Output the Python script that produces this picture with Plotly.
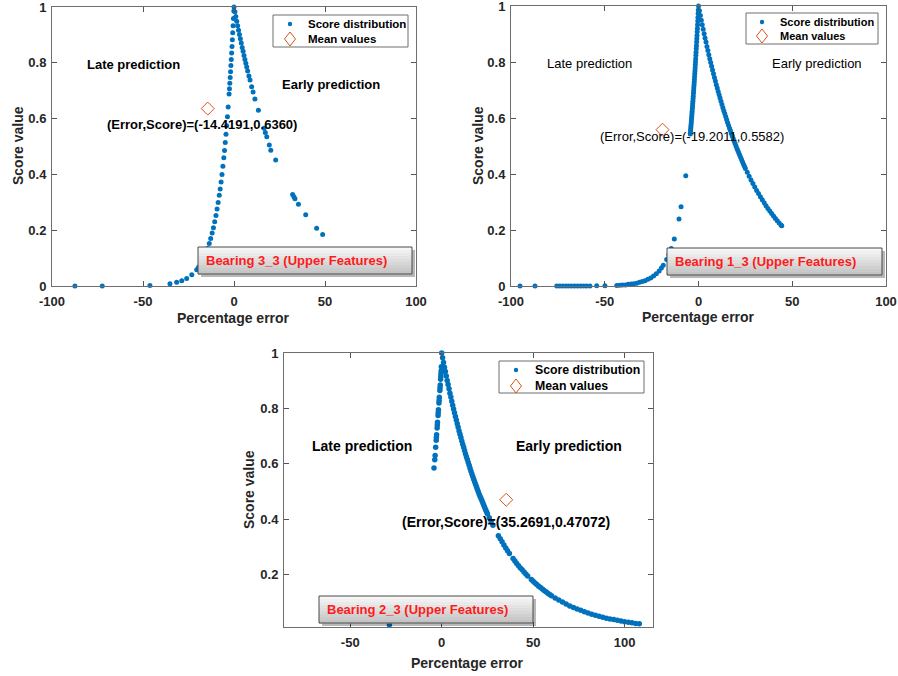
import plotly.graph_objects as go

# ---------------------------------------------------------------- data
# Bearing 3_3 : percentage error / score pairs
b33_err = [-87.4, -72.4, -46.2, -35.2, -31.5, -28.7, -26.0, -23.2,
           -20.5, -19.5, -18.5, -17.5, -16.5, -15.5, -14.5, -13.6, -12.8, -12.0,
           -11.3, -10.6, -9.9, -9.3, -8.7, -8.1, -7.6, -7.1, -6.6, -6.1, -5.6,
           -5.2, -4.8, -4.4, -4.0, -3.6, -3.2,
           -2.7, -2.5, -2.3, -2.1, -1.9, -1.7, -1.5, -1.3, -1.1, -0.9, -0.7,
           -0.5, -0.3, -0.1, 0.0,
           0.5, 1.0, 1.5, 2.0, 2.5, 3.0, 3.5, 4.0, 4.5, 5.0, 5.5, 6.0, 6.5, 7.0,
           7.5, 8.2, 8.8, 9.7, 10.5, 11.5, 13.4, 16.5, 17.2, 18.0, 19.4, 20.2,
           22.9, 32.2, 32.9, 33.5, 35.4, 39.4, 45.4, 48.7]
b33_score = [0.000, 0.000, 0.002, 0.008, 0.013, 0.019, 0.027, 0.040,
             0.058, 0.067, 0.077, 0.088, 0.101, 0.116, 0.134, 0.152, 0.170, 0.190,
             0.209, 0.230, 0.253, 0.276, 0.299, 0.325, 0.348, 0.373, 0.400, 0.429, 0.460,
             0.486, 0.514, 0.544, 0.574, 0.607, 0.642,
             0.688, 0.707, 0.727, 0.747, 0.768, 0.790, 0.812, 0.835, 0.858, 0.883, 0.908,
             0.933, 0.959, 0.986, 1.000,
             0.983, 0.966, 0.949, 0.933, 0.917, 0.901, 0.886, 0.871, 0.855, 0.841,
             0.826, 0.812, 0.798, 0.785,
             0.771, 0.753, 0.738, 0.714, 0.695, 0.670, 0.630, 0.565, 0.550, 0.535,
             0.505, 0.487, 0.452, 0.328, 0.320, 0.313, 0.293, 0.255, 0.207, 0.185]
b33_mean = (-14.4191, 0.6360)

# Bearing 1_3
b13_err = [-95.2, -87.2, -75.6, -74.0, -72.4, -70.8, -69.3, -67.7, -66.1, -64.5,
           -62.9, -61.3, -59.7, -57.9, -54.3, -49.9,
           -43.6, -42.0, -40.5, -39.0, -37.5, -36.0, -34.5, -33.0, -31.5, -30.0,
           -28.5, -27.0, -25.5, -24.0, -22.5, -21.0, -19.8, -18.8, -17.0, -15.8,
           -14.5, -12.9, -10.4, -9.3, -6.8,
           -4.4, -4.3, -4.2, -4.1, -4.0, -3.9, -3.8, -3.7, -3.6, -3.5, -3.4, -3.3,
           -3.2, -3.1, -3.0, -2.9, -2.8, -2.7, -2.6, -2.5, -2.4, -2.3, -2.2, -2.1,
           -2.0, -1.9, -1.8, -1.7, -1.6, -1.5, -1.4, -1.3, -1.2, -1.1, -1.0, -0.9,
           -0.8, -0.7, -0.6, -0.5, -0.4, -0.3, -0.2, -0.1, 0.0,
           0.5, 1.0, 1.5, 2.0, 2.5, 3.0, 3.5, 4.0, 4.5, 5.0, 5.5, 6.0, 6.5, 7.0,
           7.5, 8.0, 8.5, 9.0, 9.5, 10.0, 10.5, 11.0, 11.5, 12.0, 12.5, 13.0,
           13.5, 14.0, 14.5, 15.0, 15.5, 16.0, 16.5, 17.0, 17.5, 18.0, 18.5, 19.0,
           19.5, 20.0, 20.5, 21.0, 21.5, 22.0, 22.5, 23.0, 23.5, 24.0, 24.5, 25.0,
           26.0, 27.0, 28.0, 29.0, 30.0, 31.0, 32.0, 33.0, 34.0, 35.0, 36.0, 37.0,
           38.0, 39.0, 40.0, 41.0, 42.0, 43.0, 44.0, 44.4]
b13_score = [0.000, 0.000, 0.000, 0.000, 0.000, 0.000, 0.000, 0.000, 0.000, 0.000,
             0.000, 0.000, 0.000, 0.000, 0.001, 0.001,
             0.002, 0.003, 0.004, 0.004, 0.006, 0.007, 0.008, 0.010, 0.013, 0.016,
             0.019, 0.024, 0.029, 0.036, 0.044, 0.054, 0.064, 0.074, 0.095, 0.112,
             0.134, 0.168, 0.239, 0.283, 0.394,
             0.543, 0.551, 0.559, 0.566, 0.574, 0.582, 0.590, 0.599, 0.607, 0.616,
             0.624, 0.633, 0.642, 0.651, 0.660, 0.669, 0.678, 0.688, 0.697, 0.707,
             0.717, 0.727, 0.737, 0.747, 0.758, 0.768, 0.779, 0.790, 0.801, 0.812,
             0.824, 0.835, 0.847, 0.858, 0.871, 0.883, 0.895, 0.908, 0.920, 0.933,
             0.946, 0.959, 0.973, 0.986, 1.000,
             0.983, 0.966, 0.949, 0.933, 0.917, 0.901, 0.886, 0.871, 0.855, 0.841,
             0.826, 0.812, 0.798, 0.785, 0.771, 0.758, 0.745, 0.732, 0.719, 0.707,
             0.695, 0.683, 0.671, 0.660, 0.648, 0.637, 0.626, 0.616, 0.605, 0.595,
             0.584, 0.574, 0.564, 0.555, 0.545, 0.536, 0.527, 0.518, 0.509, 0.500,
             0.491, 0.483, 0.475, 0.467, 0.459, 0.451, 0.443, 0.435, 0.428, 0.420,
             0.406, 0.392, 0.379, 0.366, 0.354, 0.341, 0.330, 0.319, 0.308, 0.297,
             0.287, 0.277, 0.268, 0.259, 0.250, 0.241, 0.233, 0.225, 0.218, 0.215]
b13_mean = (-19.2011, 0.5582)

# Bearing 2_3
b23_err = [-28.6,
           -4.2, -3.8, -3.6, -3.3, -3.0, -2.9, -2.8, -2.5, -2.4, -2.3, -2.0, -1.9,
           -1.8, -1.5, -1.4, -1.3, -1.0, -0.9, -0.8, -0.6, -0.5, -0.4, -0.3, -0.2,
           0.0, 0.5, 1.0, 1.5, 2.0, 2.5, 3.0, 3.5, 4.0, 4.5, 5.0, 5.5, 6.0, 6.5,
           7.0, 7.5, 8.0, 8.5, 9.0, 9.5, 10.0, 10.5, 11.0, 11.5, 12.0, 12.5, 13.0,
           13.5, 14.0, 14.5, 15.0, 15.5, 16.0, 16.5, 17.0, 17.5, 18.0, 18.5, 19.0,
           19.5, 20.0, 20.5, 21.0, 21.5, 22.0, 22.5, 23.0, 23.5, 24.0, 24.5, 25.0,
           26.0, 27.0, 28.0, 31.0, 32.0, 33.0, 34.0, 35.0, 36.0, 37.0, 39.0, 40.0,
           41.0, 42.0, 43.0, 44.0, 45.0, 46.0, 47.0, 49.0, 50.0, 51.0, 52.0, 53.0,
           54.0, 55.0, 56.0, 57.0, 58.0, 59.0, 60.0, 62.0, 64.0, 66.0, 68.0, 70.0,
           72.0, 74.0, 76.0, 78.0, 80.0, 82.0, 84.0, 86.0, 88.0, 90.0, 92.0, 94.0,
           96.0, 98.0, 100.0, 102.0, 104.0, 106.0, 108.0]
b23_score = [0.020,
             0.585, 0.615, 0.630, 0.660, 0.685, 0.695, 0.705, 0.730, 0.740, 0.750,
             0.775, 0.785, 0.795, 0.820, 0.830, 0.840, 0.865, 0.875, 0.885, 0.905,
             0.915, 0.925, 0.935, 0.950,
             1.000, 0.983, 0.966, 0.949, 0.933, 0.917, 0.901, 0.886, 0.871, 0.855,
             0.841, 0.826, 0.812, 0.798, 0.785, 0.771, 0.758, 0.745, 0.732, 0.719,
             0.707, 0.695, 0.683, 0.671, 0.660, 0.648, 0.637, 0.626, 0.616, 0.605,
             0.595, 0.584, 0.574, 0.564, 0.555, 0.545, 0.536, 0.527, 0.518, 0.509,
             0.500, 0.491, 0.483, 0.475, 0.467, 0.459, 0.451, 0.443, 0.435, 0.428,
             0.420, 0.406, 0.392, 0.379, 0.341, 0.330, 0.319, 0.308, 0.297, 0.287,
             0.277, 0.259, 0.250, 0.241, 0.233, 0.225, 0.218, 0.210, 0.203, 0.196,
             0.183, 0.177, 0.171, 0.165, 0.159, 0.154, 0.149, 0.144, 0.139, 0.134,
             0.129, 0.125, 0.117, 0.109, 0.102, 0.095, 0.088, 0.082, 0.077, 0.072,
             0.067, 0.0625, 0.058, 0.054, 0.051, 0.047, 0.044, 0.041, 0.039, 0.036,
             0.034, 0.031, 0.029, 0.027, 0.025, 0.024]
b23_mean = (35.2691, 0.47072)

top_xticks = [-100, -50, 0, 50, 100]
top_xtext = ["-100", "-50", "0", "50", "100"]
top_yticks = [0, 0.2, 0.4, 0.6, 0.8, 1]
top_ytext = ["0", "0.2", "0.4", "0.6", "0.8", "1"]
bot_xticks = [-50, 0, 50, 100]
bot_xtext = ["-50", "0", "50", "100"]
bot_yticks = [0.2, 0.4, 0.6, 0.8, 1]
bot_ytext = ["0.2", "0.4", "0.6", "0.8", "1"]

# ---------------------------------------------------------------- style
W, H = 898, 676
BLUE = "#0072BD"
ORANGE = "#D95319"
AXIS = "#262626"
FONT = "Liberation Sans, Arial, sans-serif"


def fx(px):
    return px / W


def fy(py):
    return 1 - py / H


fig = go.Figure()

panels = [
    # (errors, scores, mean, axis suffix, marker size)
    (b33_err, b33_score, b33_mean, "", 5),
    (b13_err, b13_score, b13_mean, "2", 5),
    (b23_err, b23_score, b23_mean, "3", 5.5),
]

for err, score, mean, sfx, msize in panels:
    fig.add_trace(go.Scatter(
        x=err, y=score, mode="markers", name="Score distribution",
        marker=dict(color=BLUE, size=msize, line=dict(width=0)),
        xaxis="x" + sfx, yaxis="y" + sfx, showlegend=False, cliponaxis=False))
    fig.add_trace(go.Scatter(
        x=[mean[0]], y=[mean[1]], mode="markers", name="Mean values",
        marker=dict(symbol="diamond-open", color=ORANGE, size=10,
                    line=dict(color=ORANGE, width=1)),
        xaxis="x" + sfx, yaxis="y" + sfx, showlegend=False, cliponaxis=False))


def axis_style(domain, rng, tickvals, ticktext, anchor, is_x):
    return dict(
        domain=domain, range=rng, tickvals=tickvals, ticktext=ticktext,
        anchor=anchor, ticks="inside", ticklen=5, tickcolor="#555555",
        showline=True, linecolor="#6e6e6e", linewidth=1, mirror="ticks",
        showgrid=False, zeroline=False, automargin=False,
        ticklabeloverflow="allow", ticklabelstandoff=3 if is_x else 2,
        tickfont=dict(family=FONT, size=13, color=AXIS, weight="bold"),
    )


tl_x = [fx(52), fx(416)]
tl_y = [fy(286), fy(7)]
tr_x = [fx(511), fx(886)]
tr_y = [fy(286), fy(6)]
b_x = [fx(284), fx(653)]
b_y = [fy(627), fy(353)]

fig.update_layout(
    width=W, height=H, margin=dict(l=0, r=0, t=0, b=0, autoexpand=False),
    paper_bgcolor="white", plot_bgcolor="white", showlegend=False,
    font=dict(family=FONT, color="black"),
    xaxis=axis_style(tl_x, [-100, 100], top_xticks, top_xtext, "y", True),
    yaxis=axis_style(tl_y, [0, 1], top_yticks, top_ytext, "x", False),
    xaxis2=axis_style(tr_x, [-100, 100], top_xticks, top_xtext, "y2", True),
    yaxis2=axis_style(tr_y, [0, 1], top_yticks, top_ytext, "x2", False),
    xaxis3=axis_style(b_x, [-86.2, 115.5], bot_xticks, bot_xtext, "y3", True),
    yaxis3=axis_style(b_y, [0.012, 1], bot_yticks, bot_ytext, "x3", False),
)

# ---------------------------------------------------------------- axis titles
axis_titles = [
    # (x title centre, y title centre) in pixels
    ((233, 318), (18, 146)),
    ((698, 317), (478, 146)),
    ((468, 663), (249, 490)),
]
for (xt_px, xt_py), (yt_px, yt_py) in axis_titles:
    fig.add_annotation(text="Percentage error", xref="paper", yref="paper",
                       x=fx(xt_px), y=fy(xt_py), showarrow=False,
                       xanchor="center", yanchor="middle",
                       font=dict(family=FONT, size=14, color=AXIS, weight="bold"))
    fig.add_annotation(text="Score value", xref="paper", yref="paper",
                       x=fx(yt_px), y=fy(yt_py), showarrow=False, textangle=-90,
                       xanchor="center", yanchor="middle",
                       font=dict(family=FONT, size=14, color=AXIS, weight="bold"))

# ---------------------------------------------------------------- legends
# box (x0, x1, y0, y1), key x, row y's, text x, font size
legend_boxes = [
    ((273, 408, 15, 47), 290, (24, 39), 306, 11.5),
    ((746, 878, 13, 44), 762, (22, 36), 778, 11),
    ((499, 644, 361, 393), 516, (370, 386), 533, 12.3),
]
for (x0, x1, y0, y1), kx, (r1, r2), tx, fs in legend_boxes:
    fig.add_shape(type="rect", xref="paper", yref="paper", layer="above",
                  x0=fx(x0), x1=fx(x1), y0=fy(y1), y1=fy(y0),
                  fillcolor="white", line=dict(color="#6e6e6e", width=1))
    fig.add_shape(type="circle", xref="paper", yref="paper", layer="above",
                  x0=fx(kx - 2.2), x1=fx(kx + 2.2), y0=fy(r1 + 2.2), y1=fy(r1 - 2.2),
                  fillcolor=BLUE, line=dict(width=0))
    path = "M %.5f,%.5f L %.5f,%.5f L %.5f,%.5f L %.5f,%.5f Z" % (
        fx(kx), fy(r2 - 7), fx(kx + 5.5), fy(r2), fx(kx), fy(r2 + 7), fx(kx - 5.5), fy(r2))
    fig.add_shape(type="path", path=path, xref="paper", yref="paper", layer="above",
                  fillcolor="rgba(0,0,0,0)", line=dict(color=ORANGE, width=1))
    for label, ry in (("Score distribution", r1), ("Mean values", r2)):
        fig.add_annotation(text=label, xref="paper", yref="paper",
                           x=fx(tx), y=fy(ry), showarrow=False,
                           xanchor="left", yanchor="middle",
                           font=dict(family=FONT, size=fs, color="black", weight="bold"))

# ---------------------------------------------------------------- annotations
text_items = [
    # (text, x, y, axis suffix, size, bold)
    ("Late prediction", -55, 0.795, "", 13, True),
    ("Early prediction", 53.3, 0.722, "", 13, True),
    ("(Error,Score)=(%.4f,%.4f)" % b33_mean, -17.5, 0.58, "", 13, True),
    ("Late prediction", -57.9, 0.796, "2", 13, False),
    ("Early prediction", 63.2, 0.796, "2", 13, False),
    ("(Error,Score)=(%.4f,%.4f)" % b13_mean, -3.5, 0.535, "2", 13, False),
    ("Late prediction", -43.6, 0.664, "3", 14, True),
    ("Early prediction", 69.6, 0.664, "3", 14, True),
    ("(Error,Score)=(%.4f,%.5f)" % b23_mean, 35.1, 0.389, "3", 14, True),
]
for text, x, y, sfx, size, bold in text_items:
    fig.add_annotation(
        text=text, x=x, y=y, xref="x" + sfx, yref="y" + sfx, showarrow=False,
        xanchor="center", yanchor="middle",
        font=dict(family=FONT, size=size, color="black",
                  weight="bold" if bold else "normal"))

# bearing name boxes: shadow, vertical grey gradient, border, red caption
name_boxes = [
    ("Bearing 3_3 (Upper Features)", 198, 412, 247, 274),
    ("Bearing 1_3 (Upper Features)", 667, 882, 248, 275),
    ("Bearing 2_3 (Upper Features)", 319, 533, 596, 623),
]
for caption, x0, x1, y0, y1 in name_boxes:
    fig.add_shape(type="rect", xref="paper", yref="paper", layer="above",
                  x0=fx(x0 + 3), x1=fx(x1 + 3), y0=fy(y1 + 3), y1=fy(y0 + 3),
                  fillcolor="rgba(0,0,0,0.28)", line=dict(width=0))
    steps = 9
    top_c, bot_c = (246, 246, 246), (196, 196, 196)
    for i in range(steps):
        t = i / (steps - 1)
        c = tuple(round(a + (b - a) * t) for a, b in zip(top_c, bot_c))
        ya = y0 + (y1 - y0) * i / steps
        yb = y0 + (y1 - y0) * (i + 1) / steps
        fig.add_shape(type="rect", xref="paper", yref="paper", layer="above",
                      x0=fx(x0), x1=fx(x1), y0=fy(yb + 0.5), y1=fy(ya),
                      fillcolor="rgb(%d,%d,%d)" % c, line=dict(width=0))
    fig.add_shape(type="rect", xref="paper", yref="paper", layer="above",
                  x0=fx(x0), x1=fx(x1), y0=fy(y1), y1=fy(y0),
                  fillcolor="rgba(0,0,0,0)", line=dict(color="#4a4a4a", width=1))
    fig.add_annotation(
        text=caption, xref="paper", yref="paper", x=fx(x0 + 6), y=fy((y0 + y1) / 2),
        xanchor="left", yanchor="middle", showarrow=False,
        font=dict(family=FONT, size=13, color="#ff1a1a", weight="bold"))

fig.write_html("out.html")
